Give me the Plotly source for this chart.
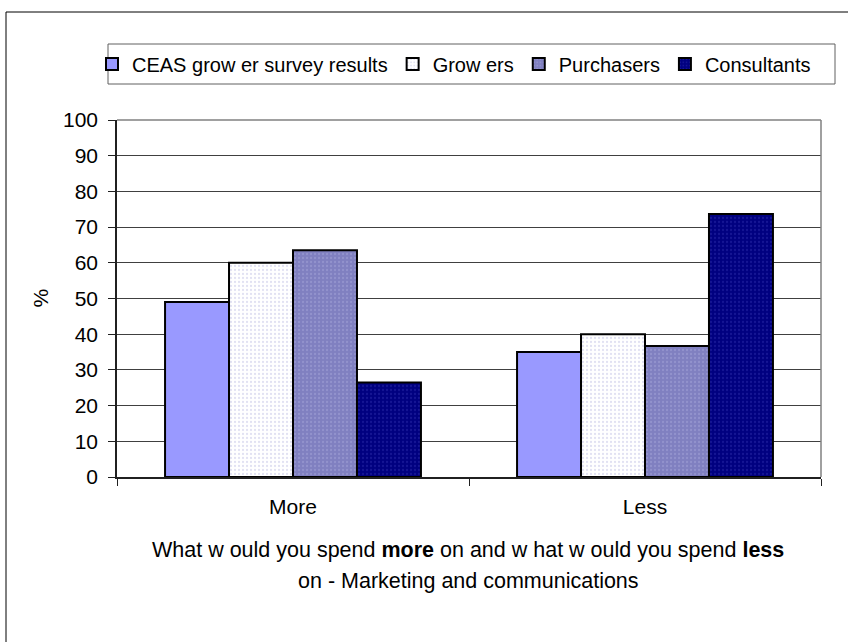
import plotly.graph_objects as go

# Survey answers: share of respondents (%) who would spend more / less
categories = ["More", "Less"]
series_names = ["CEAS grow er survey results", "Grow ers", "Purchasers", "Consultants"]
ceas_values = [49, 35]
growers_values = [60, 40]
purchasers_values = [63.5, 36.7]
consultants_values = [26.5, 73.7]
y_ticks = [0, 10, 20, 30, 40, 50, 60, 70, 80, 90, 100]

W, H = 848, 642
L, R, T, B = 117, 821, 120, 477  # plot area in pixels


def px_x(p):
    return (p - L) / (R - L)


def px_y(p):
    return (B - p) / (B - T)


FONT = "Liberation Sans, Arial, sans-serif"
FS = 21

styles = [
    dict(color="#9999FF"),
    dict(color="#FFFFFF", pattern=dict(shape=".", bgcolor="#FFFFFF", fgcolor="#C4C4E6", size=4, solidity=0.25)),
    dict(color="#8383C4", pattern=dict(shape=".", bgcolor="#8080C0", fgcolor="#A4A4D8", size=4, solidity=0.25)),
    dict(color="#000080", pattern=dict(shape=".", bgcolor="#000080", fgcolor="#2A2AA8", size=4, solidity=0.25)),
]
values = [ceas_values, growers_values, purchasers_values, consultants_values]

fig = go.Figure()
for name, vals, st in zip(series_names, values, styles):
    marker = dict(color=st["color"], line=dict(color="#000000", width=2))
    if "pattern" in st:
        marker["pattern"] = st["pattern"]
    fig.add_trace(go.Bar(x=categories, y=vals, name=name, marker=marker))

shapes = [
    # outer chart frame
    dict(type="rect", xref="paper", yref="paper", x0=px_x(6), x1=px_x(860), y0=px_y(660), y1=px_y(12),
         line=dict(color="#000000", width=1), fillcolor="rgba(0,0,0,0)", layer="below"),
    # legend frame
    dict(type="rect", xref="paper", yref="paper", x0=px_x(108), x1=px_x(835), y0=px_y(84), y1=px_y(44),
         line=dict(color="#606060", width=1), fillcolor="rgba(0,0,0,0)"),
    # plot area border (top and right)
    dict(type="line", xref="paper", yref="paper", x0=0, x1=1, y0=1, y1=1, line=dict(color="#808080", width=1.5)),
    dict(type="line", xref="paper", yref="paper", x0=1, x1=1, y0=0, y1=1, line=dict(color="#808080", width=1.5)),
]

annotations = [
    dict(text="%", xref="paper", yref="paper", x=px_x(40), y=0.5, textangle=-90, showarrow=False,
         xanchor="center", yanchor="middle", font=dict(family=FONT, size=FS, color="#000000")),
    dict(text="What w ould you spend <b>more</b> on and w hat w ould you spend <b>less</b>",
         xref="paper", yref="paper", x=px_x(468), y=px_y(550), showarrow=False,
         xanchor="center", yanchor="middle", font=dict(family=FONT, size=21.5, color="#000000")),
    dict(text="on - Marketing and communications",
         xref="paper", yref="paper", x=px_x(468), y=px_y(581), showarrow=False,
         xanchor="center", yanchor="middle", font=dict(family=FONT, size=21.5, color="#000000")),
]

fig.update_layout(
    width=W, height=H,
    margin=dict(l=L, r=W - R, t=T, b=H - B, pad=0),
    paper_bgcolor="#FFFFFF", plot_bgcolor="#FFFFFF",
    barmode="group", bargap=0.273, bargroupgap=0,
    font=dict(family=FONT, size=FS, color="#000000"),
    showlegend=True,
    legend=dict(orientation="h", x=px_x(92), y=px_y(64), xanchor="left", yanchor="middle",
                bgcolor="rgba(0,0,0,0)", borderwidth=0, font=dict(family=FONT, size=20),
                itemwidth=30, traceorder="normal"),
    shapes=shapes,
    annotations=annotations,
)

fig.update_yaxes(range=[0, 100], tickvals=y_ticks, showgrid=True, gridcolor="#404040", gridwidth=1,
                 showline=True, linecolor="#202020", linewidth=1.5, ticks="outside", ticklen=7,
                 tickcolor="#202020", ticklabelstandoff=6, zeroline=False, fixedrange=True)
fig.update_xaxes(showline=True, linecolor="#202020", linewidth=2, ticks="outside", ticklen=7,
                 tickson="boundaries", tickcolor="#202020", ticklabelstandoff=10, showgrid=False)

fig.write_html("out.html")
